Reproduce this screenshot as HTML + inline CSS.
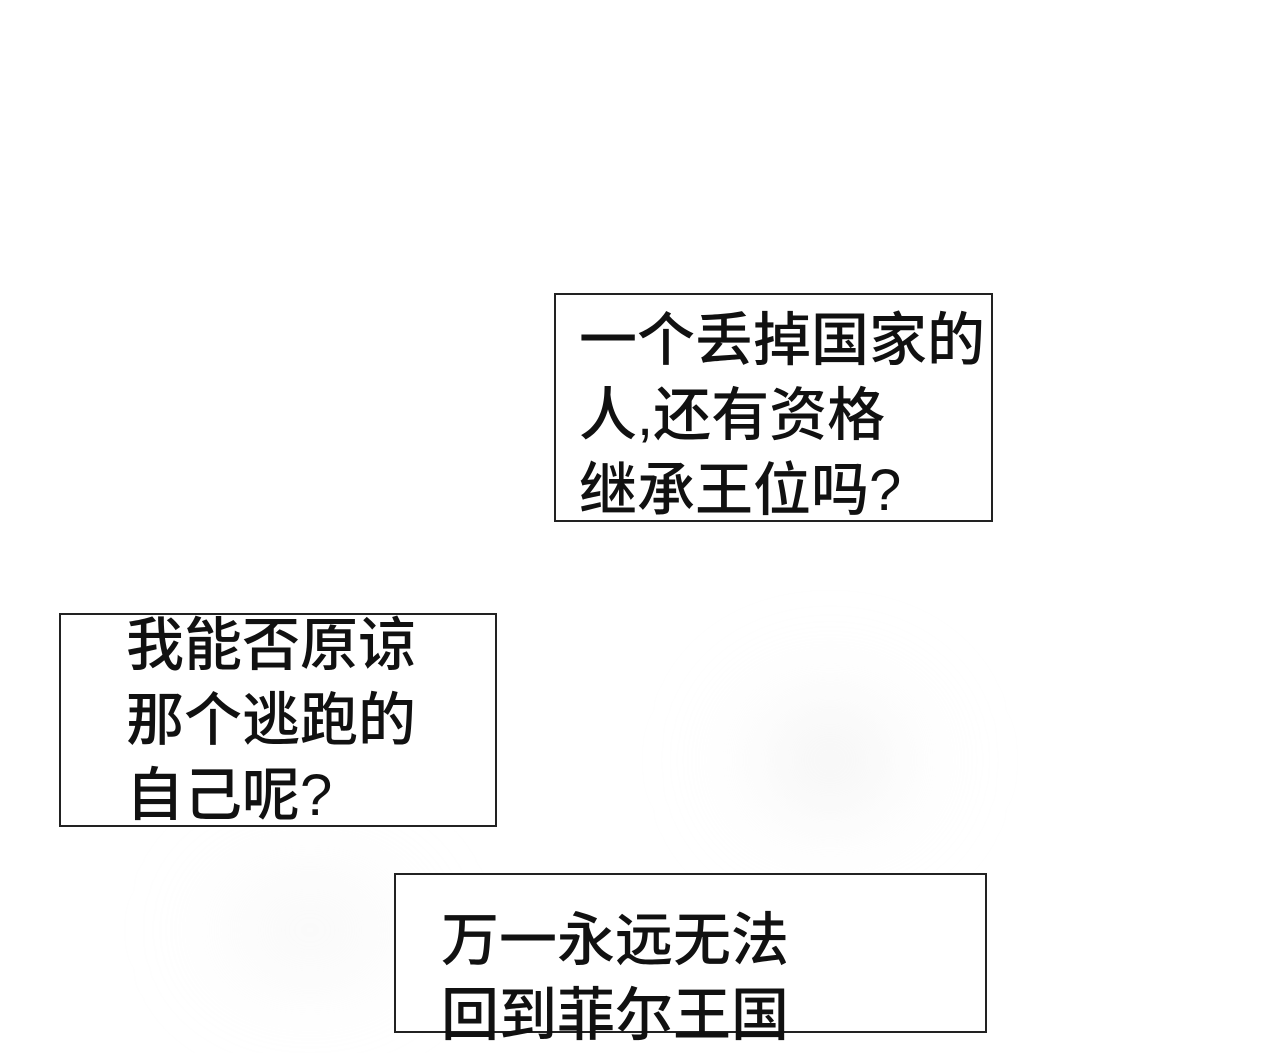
<!DOCTYPE html>
<html><head><meta charset="utf-8"><style>
html,body{margin:0;padding:0}
body{width:1280px;height:1000px;position:relative;overflow:hidden;background:#fff;
font-family:"Liberation Sans","Noto Sans CJK SC",sans-serif}
.g{position:absolute;border-radius:50%;filter:blur(40px)}
.box{position:absolute;border:2px solid #222;background:#fff;box-sizing:border-box}
.t{position:absolute;font-size:58px;line-height:75px;color:#111;white-space:nowrap;font-weight:500}
</style></head><body>
<div class="g" style="left:700px;top:650px;width:260px;height:220px;background:radial-gradient(closest-side,rgba(225,225,225,0.6),rgba(240,240,240,0.2),rgba(255,255,255,0))"></div>
<div class="g" style="left:180px;top:840px;width:260px;height:180px;background:radial-gradient(closest-side,rgba(235,235,235,0.4),rgba(255,255,255,0))"></div>
<div class="box" style="left:554px;top:293px;width:439px;height:229px"></div>
<div class="t" style="left:579px;top:303px">一个丢掉国家的<br>人,还有资格<br>继承王位吗?</div>
<div class="box" style="left:59px;top:613px;width:438px;height:214px"></div>
<div class="t" style="left:126px;top:608px">我能否原谅<br>那个逃跑的<br>自己呢?</div>
<div class="box" style="left:394px;top:873px;width:593px;height:160px"></div>
<div class="t" style="left:441px;top:903px">万一永远无法<br>回到菲尔王国</div>
</body></html>
